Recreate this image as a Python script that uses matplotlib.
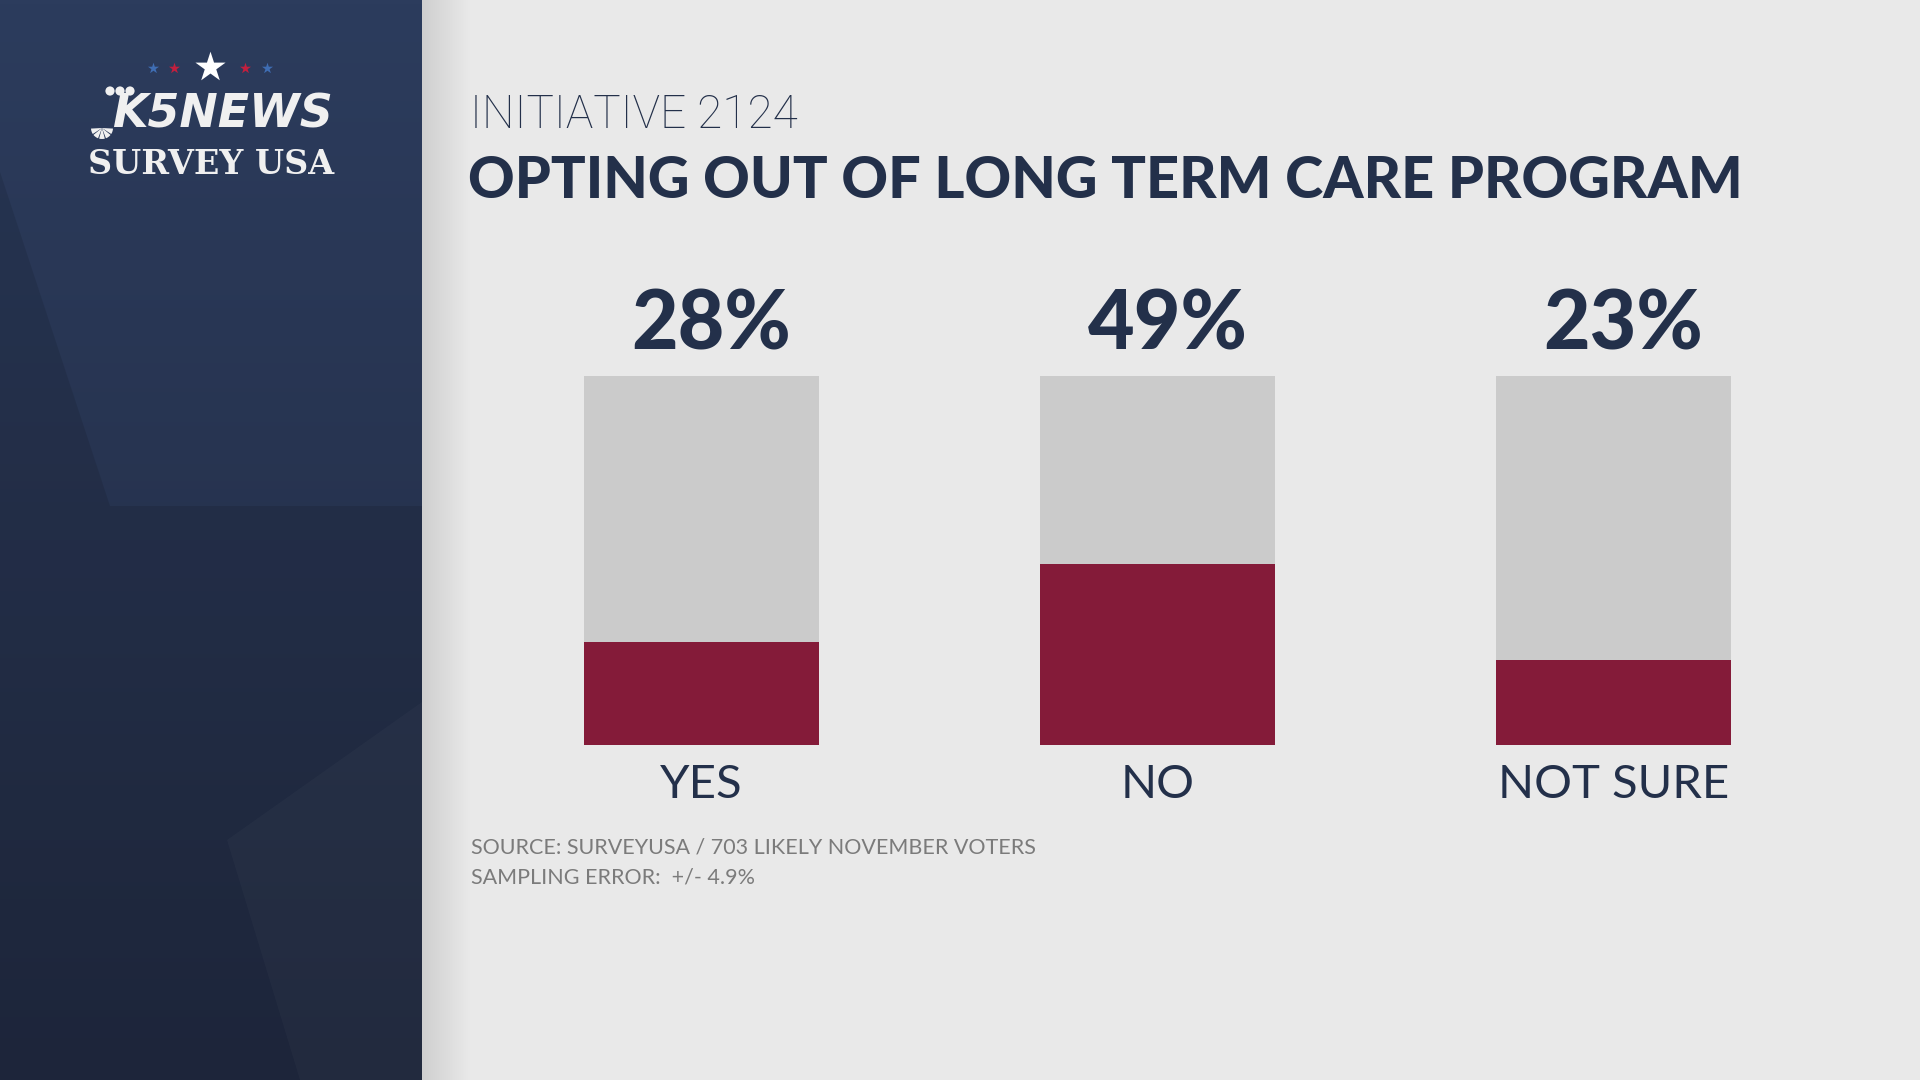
import matplotlib
matplotlib.use("Agg")
import matplotlib.pyplot as plt
import numpy as np
from matplotlib.patches import Polygon, Circle, Wedge
from matplotlib.colors import LinearSegmentedColormap

# ---- data ----
categories = ["YES", "NO", "NOT SURE"]
values = [28, 49, 23]
pct_labels = ["28%", "49%", "23%"]
full_scale = 100

title_top = "INITIATIVE 2124"
title_main = "OPTING OUT OF LONG TERM CARE PROGRAM"
source_lines = ["SOURCE: SURVEYUSA / 703 LIKELY NOVEMBER VOTERS",
                "SAMPLING ERROR:  +/- 4.9%"]

NAVY = "#23304a"
RED = "#841b39"
GREY = "#cbcbcb"
BG = "#e9e9e9"
FONT = ["Lato", "DejaVu Sans"]

W, H = 1920, 1080
fig = plt.figure(figsize=(19.2, 10.8), dpi=100, facecolor=BG)

# decoration layer, pixel coordinates (y down)
deco = fig.add_axes([0, 0, 1, 1], zorder=0)
deco.axis("off")
grad = np.linspace(0, 1, 256).reshape(-1, 1)
panel_cmap = LinearSegmentedColormap.from_list("panel", ["#2c3c5d", "#212a41"])
deco.imshow(grad, cmap=panel_cmap, extent=(0, 422, H, 0), aspect="auto", zorder=0)
shadow_cmap = LinearSegmentedColormap.from_list("shadow", ["#cfcfcf", BG])
deco.imshow(grad.T, cmap=shadow_cmap, extent=(422, 470, H, 0), aspect="auto", zorder=0)
# facets in the side panel
deco.add_patch(Polygon([(0, 172), (110, 506), (422, 506), (422, H), (0, H)],
                       closed=True, color="black", alpha=0.10, lw=0, zorder=1))
deco.add_patch(Polygon([(422, 702), (227, 840), (300, H), (422, H)],
                       closed=True, color="white", alpha=0.025, lw=0, zorder=1))
deco.set_xlim(0, W)
deco.set_ylim(H, 0)

# logo
LOGO = "#f0f0f0"
deco.scatter([210], [67], s=520, marker="*", color="white", lw=0, zorder=3)
deco.scatter([153, 267], [68, 68], s=70, marker="*", color="#3f6db3", lw=0, zorder=3)
deco.scatter([174, 245], [68, 68], s=70, marker="*", color="#c21f3e", lw=0, zorder=3)
for cx in (110, 120, 130):
    deco.add_patch(Circle((cx, 91), 4.6, color=LOGO, lw=0, zorder=3))
for k in range(5):
    deco.add_patch(Wedge((102, 128), 11, 180 - 36 * (k + 1) + 3, 180 - 36 * k - 3,
                         color=LOGO, lw=0, zorder=3))
deco.text(222, 128, "K5NEWS", ha="center", va="baseline", fontsize=33,
          style="italic", weight="bold", family="DejaVu Sans", color=LOGO, zorder=3)
deco.text(211, 174, "SURVEY USA", ha="center", va="baseline", fontsize=24,
          weight="bold", family="DejaVu Serif", color=LOGO, zorder=3)

# titles
deco.text(470, 128, title_top, ha="left", va="baseline", fontsize=33,
          weight="light", family=["Roboto", "DejaVu Sans"], color=NAVY)
deco.text(468, 198, title_main, ha="left", va="baseline", fontsize=41.5,
          weight="black", family=FONT, color=NAVY)
for i, line in enumerate(source_lines):
    deco.text(471, 853 + 30 * i, line, ha="left", va="baseline", fontsize=15.5,
              family=FONT, color="#7b7b7b")

# bars
ax = fig.add_axes([584 / W, (H - 745) / H, (1731 - 584) / W, (745 - 376) / H], zorder=2)
x = np.arange(len(categories))
width = 235 / 456
ax.bar(x, [full_scale] * len(values), width, color=GREY)
ax.bar(x, values, width, color=RED)
ax.set_xlim(-width / 2, len(categories) - 1 + width / 2)
ax.set_ylim(0, full_scale)
ax.axis("off")

for i, (cat, lab) in enumerate(zip(categories, pct_labels)):
    ax.annotate(lab, xy=(i, full_scale), xytext=(10, 26), textcoords="offset pixels",
                ha="center", va="baseline", fontsize=58, weight="black",
                family=FONT, color=NAVY)
    ax.annotate(cat, xy=(i, 0), xytext=(0, -53), textcoords="offset pixels",
                ha="center", va="baseline", fontsize=34, family=FONT, color=NAVY)

fig.savefig("out.png", dpi=100, facecolor=BG)
